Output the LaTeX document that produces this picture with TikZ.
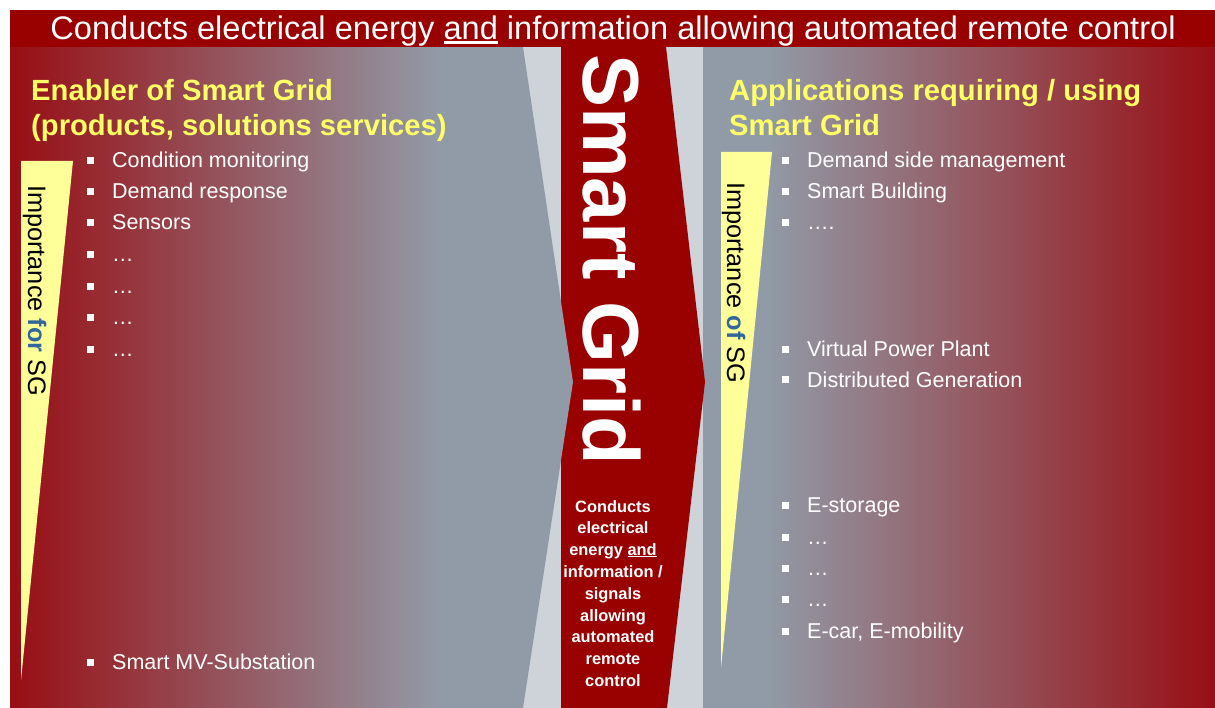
\documentclass[tikz,border=0pt]{standalone}
\usepackage{fontspec}
\setmainfont{Liberation Sans}
\definecolor{sgred}{RGB}{153,0,0}
\definecolor{edgered}{RGB}{152,14,20}
\definecolor{panelgray}{RGB}{145,155,167}
\definecolor{midgray}{RGB}{206,210,217}
\definecolor{paleyellow}{RGB}{255,255,153}
\definecolor{headyellow}{RGB}{255,255,102}
\definecolor{sgblue}{RGB}{51,102,153}
\newcommand\myul[1]{\setbox0=\hbox{#1}\rlap{\rule[-0.11em]{\wd0}{0.065em}}#1}
\newcommand\sqb{\rule[3.5pt]{7pt}{7pt}\hspace{18pt}}
\begin{document}
\begin{tikzpicture}[x=1pt,y=-1pt,
  bul/.style={anchor=base west,inner sep=0pt,text=white,font=\fontsize{21.5}{26}\selectfont},
  head/.style={anchor=base west,inner sep=0pt,text=headyellow,font=\bfseries\fontsize{29.2}{35}\selectfont},
  imp/.style={rotate=-90,anchor=base west,inner sep=0pt,text=black,font=\fontsize{25.3}{30}\selectfont},
  tri/.style={fill=paleyellow},
]
\useasboundingbox (0,0) rectangle (1215,708);
\fill[white] (0,0) rectangle (1215,708);
% middle light background
\fill[midgray] (500,47) rectangle (712,708);
% right panel
\fill[panelgray] (703,47) rectangle (1215,708);
\shade[left color=panelgray,right color=edgered] (765,47) rectangle (1215,708);
% central red band
\fill[sgred] (561,47) -- (666,47) -- (705,382) -- (667,708) -- (561,708) -- cycle;
% left panel
\fill[panelgray] (10,47) -- (523,47) -- (573,382) -- (523,708) -- (10,708) -- cycle;
\shade[left color=edgered,right color=panelgray] (10,47) rectangle (440,708);
% title bar
\fill[sgred] (10,10) rectangle (1215,47);
\node[anchor=base,inner sep=0pt,text=white,font=\fontsize{32.6}{38}\selectfont] (title) at (613,40)
  {Conducts electrical energy \myul{and} information allowing automated remote control};
% triangles
\fill[tri] (21,161) -- (73,161) -- (21,680) -- cycle;
\fill[tri] (721,152) -- (772,152) -- (721,668) -- cycle;
\node[imp] (impl) at (28,185) {Importance \textcolor{sgblue}{\bfseries for} SG};
\node[imp] (impr) at (727,182) {Importance \textcolor{sgblue}{\bfseries of} SG};
% headings
\node[head] (hl1) at (31,101) {Enabler of Smart Grid};
\node[head] (hl2) at (31,136) {(products, solutions services)};
\node[head] (hr1) at (729,101) {Applications requiring / using};
\node[head] (hr2) at (729,136) {Smart Grid};
% left bullets
\node[bul] (l1) at (87,168) {\sqb Condition monitoring};
\node[bul] (l2) at (87,199) {\sqb Demand response};
\node[bul] (l3) at (87,230) {\sqb Sensors};
\node[bul] (l4) at (87,262) {\sqb …};
\node[bul] (l5) at (87,294) {\sqb …};
\node[bul] (l6) at (87,325) {\sqb …};
\node[bul] (l7) at (87,356) {\sqb …};
\node[bul] (l8) at (87,669) {\sqb Smart MV-Substation};
% right bullets
\node[bul] (r1) at (782,168) {\sqb Demand side management};
\node[bul] (r2) at (782,199) {\sqb Smart Building};
\node[bul] (r3) at (782,230) {\sqb ….};
\node[bul] (r4) at (782,356) {\sqb Virtual Power Plant};
\node[bul] (r5) at (782,387) {\sqb Distributed Generation};
\node[bul] (r6) at (782,512) {\sqb E-storage};
\node[bul] (r7) at (782,544) {\sqb …};
\node[bul] (r8) at (782,575) {\sqb …};
\node[bul] (r9) at (782,606) {\sqb …};
\node[bul] (r10) at (782,638) {\sqb E-car, E-mobility};
% center
\node[rotate=-90,anchor=base west,inner sep=0pt,text=white,font=\bfseries\fontsize{79.5}{80}\selectfont] (sg) at (583,54) {Smart Grid};
\node[anchor=north,inner sep=0pt,text=white,align=center,font=\bfseries\fontsize{16.4}{21.8}\selectfont] (ctext) at (613,500)
  {Conducts\\electrical\\energy \myul{and}\\information /\\signals\\allowing\\automated\\remote\\control};
\end{tikzpicture}
\end{document}
